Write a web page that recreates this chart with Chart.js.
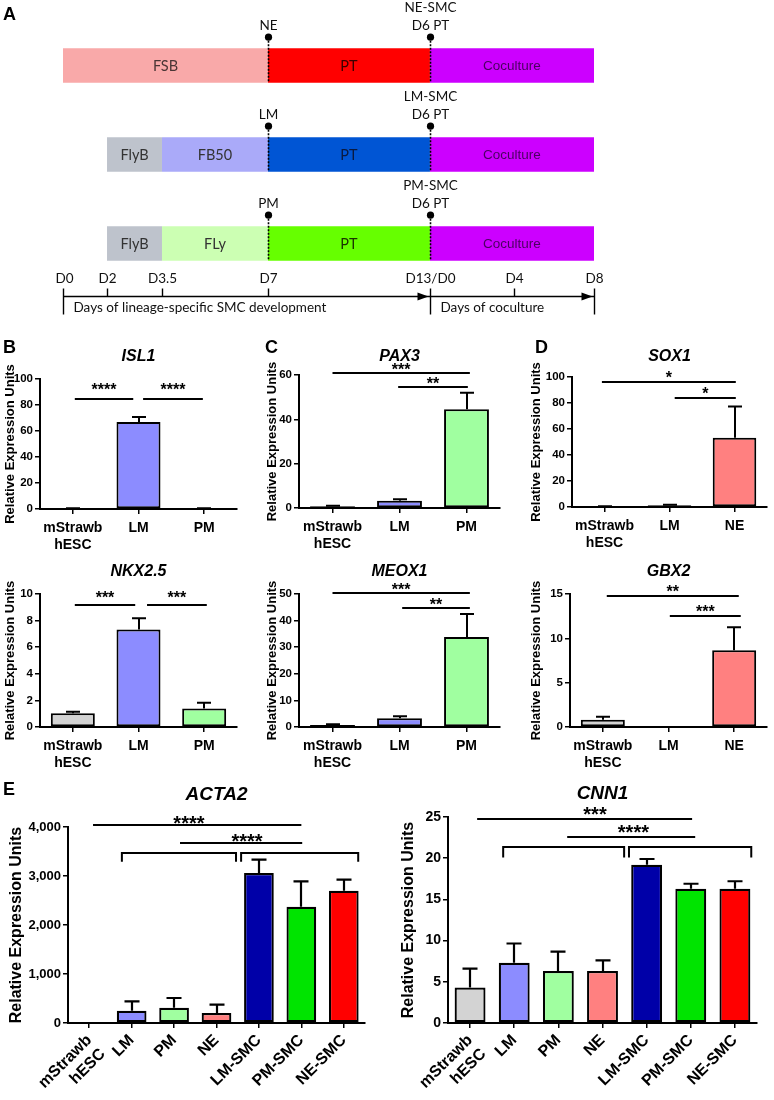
<!DOCTYPE html>
<html><head><meta charset="utf-8">
<script src="https://cdn.jsdelivr.net/npm/chart.js@4.4.1/dist/chart.umd.min.js"></script>
<style>
html,body{margin:0;padding:0;background:#fff;}
#fig{position:relative;width:774px;height:1100px;overflow:hidden;background:#fff;}
canvas{position:absolute;}
.lt{position:absolute;font:bold 18px 'Liberation Sans',Arial,sans-serif;line-height:18px;color:#000;}
</style></head><body>
<div id="fig">
<canvas id="cA"></canvas>
<canvas id="cB1"></canvas><canvas id="cB2"></canvas>
<canvas id="cC1"></canvas><canvas id="cC2"></canvas>
<canvas id="cD1"></canvas><canvas id="cD2"></canvas>
<canvas id="cE1"></canvas><canvas id="cE2"></canvas>
<div class="lt" style="left:3px;top:5px">A</div>
<div class="lt" style="left:3px;top:338px">B</div>
<div class="lt" style="left:265px;top:338px">C</div>
<div class="lt" style="left:535px;top:338px">D</div>
<div class="lt" style="left:3px;top:780px">E</div>
</div>
<script>
// ================= DATA =================
// Panel A (schematic, days; coculture days counted from D13)
const schemeRows = ['NE', 'LM', 'PM'];
const stage1Span = [[0, 7], [2, 3.5], [2, 3.5]];
const stage1Names = ['FSB', 'FlyB', 'FlyB'];
const stage2Span = [null, [3.5, 7], [3.5, 7]];
const stage2Names = [null, 'FB50', 'FLy'];
const ptSpan = [[7, 13], [7, 13], [7, 13]];
const ptNames = ['PT', 'PT', 'PT'];
const cocultureSpan = [[13, 21], [13, 21], [13, 21]];
const cocultureNames = ['Coculture', 'Coculture', 'Coculture'];
const timeTickDays = [0, 2, 3.5, 7, 13, 17, 21];
const timeTickLabels = ['D0', 'D2', 'D3.5', 'D7', 'D13/D0', 'D4', 'D8'];
const milestoneRow = [0, 0, 1, 1, 2, 2];
const milestoneDay = [7, 13, 7, 13, 7, 13];
const milestoneText = [['NE'], ['NE-SMC', 'D6 PT'], ['LM'], ['LM-SMC', 'D6 PT'], ['PM'], ['PM-SMC', 'D6 PT']];
const timeAxisNames = ['Days of lineage-specific SMC development', 'Days of coculture'];

// Panels B-E categories
const catsPM = [['mStrawb', 'hESC'], 'LM', 'PM'];
const catsNE = [['mStrawb', 'hESC'], 'LM', 'NE'];
const catsE = [['mStrawb', 'hESC'], 'LM', 'PM', 'NE', 'LM-SMC', 'PM-SMC', 'NE-SMC'];

// values (mean) and SEM
const isl1 = [0.5, 67, 0.5];        const isl1Sem = [0.1, 3.8, 0.1];
const nkx25 = [1.03, 7.33, 1.4];    const nkx25Sem = [0.12, 0.85, 0.43];
const pax3 = [0.75, 3.3, 44.5];     const pax3Sem = [0.3, 0.6, 7.5];
const meox1 = [0.75, 3.25, 33.8];   const meox1Sem = [0.25, 0.75, 8.7];
const sox1 = [0.4, 1.3, 53.2];      const sox1Sem = [0.1, 0.5, 24.2];
const gbx2 = [0.83, 0.05, 8.67];    const gbx2Sem = [0.34, 0, 2.58];
const acta2 = [2, 250, 310, 205, 3060, 2370, 2700];
const acta2Sem = [0, 190, 200, 170, 275, 520, 225];
const cnn1 = [4.3, 7.3, 6.3, 6.3, 19.2, 16.3, 16.3];
const cnn1Sem = [2.3, 2.35, 2.35, 1.3, 0.7, 0.6, 0.9];

// significance lines: [fromCat, toCat, value, label, (labelCat)]
const isl1Sig = [[0.03, 0.92, 85, '****'], [1.07, 1.98, 85, '****']];
const nkx25Sig = [[0.03, 0.95, 9.15, '***'], [1.13, 2.04, 9.15, '***']];
const pax3Sig = [[0.0, 2.05, 60.9, '***'], [0.98, 2.02, 54.6, '**']];
const meox1Sig = [[0.0, 2.05, 50.2, '***'], [1.04, 2.05, 44.6, '**']];
const sox1Sig = [[-0.04, 2.02, 96.5, '*'], [1.08, 2.02, 84, '*']];
const gbx2Sig = [[0.06, 2.07, 14.8, '**'], [1.02, 2.1, 12.5, '***']];
const acta2Sig = [[0.09, 5.0, 4040, '****', 2.35], [2.14, 5.02, 3670, '****', 3.72]];
const acta2Brackets = [[0.77, 3.46, 3470, 3290], [3.58, 6.34, 3470, 3290]];
const cnn1Sig = [[0.16, 5.03, 24.8, '***', 2.83], [2.2, 5.1, 22.6, '****', 3.7]];
const cnn1Brackets = [[0.75, 3.49, 21.4, 20.1], [3.6, 6.37, 21.4, 20.1]];

// ================= STYLE =================
const C = {
  gray: '#D3D3D3', lm: '#8C8CFF', pm: '#A0FFA0', ne: '#FF8080',
  lmSmc: '#0000A8', pmSmc: '#00E400', neSmc: '#FF0000'
};
const FONT = "'Liberation Sans', Arial, sans-serif";
const AFONT = "Lato, 'Open Sans', sans-serif";

// ---------- Panel A: piecewise schematic time scale ----------
const stageFrac = [0, 0.0829, 0.1864, 0.386, 0.691, 0.849, 1];
class StageScale extends Chart.LinearScale {
  getPixelForValue(value) {
    if (value === null || value === undefined || isNaN(value)) return NaN;
    const b = timeTickDays, f = stageFrac;
    let dec;
    if (value <= b[0]) dec = f[0];
    else if (value >= b[b.length - 1]) dec = f[f.length - 1];
    else {
      for (let i = 1; i < b.length; i++) {
        if (value <= b[i]) { dec = f[i - 1] + (value - b[i - 1]) / (b[i] - b[i - 1]) * (f[i] - f[i - 1]); break; }
      }
    }
    return this.getPixelForDecimal(dec);
  }
}
StageScale.id = 'stage';
StageScale.defaults = {};
Chart.register(StageScale);

const schemePlugin = {
  id: 'scheme',
  afterDatasetsDraw(chart) {
    const ctx = chart.ctx, xs = chart.scales.x, ca = chart.chartArea;
    ctx.save();
    chart.data.datasets.forEach((ds, di) => {
      chart.getDatasetMeta(di).data.forEach((el, i) => {
        const n = ds.names[i];
        if (!n || !ds.data[i]) return;
        ctx.font = ds.nameFont;
        ctx.fillStyle = ds.nameColor[i];
        ctx.textAlign = 'center'; ctx.textBaseline = 'middle';
        ctx.fillText(n, (el.x + el.base) / 2, el.y + 1);
      });
    });
    const ref = chart.getDatasetMeta(2).data;
    milestoneDay.forEach((d, k) => {
      const el = ref[milestoneRow[k]];
      const x = Math.round(xs.getPixelForValue(d)) + 0.5;
      const top = el.y - el.height / 2, bot = el.y + el.height / 2;
      const dotY = top - 11;
      ctx.strokeStyle = '#000'; ctx.lineWidth = 1.6; ctx.setLineDash([2, 1.5]);
      ctx.beginPath(); ctx.moveTo(x, dotY); ctx.lineTo(x, bot); ctx.stroke();
      ctx.setLineDash([]);
      ctx.fillStyle = '#000';
      ctx.beginPath(); ctx.arc(x, dotY, 3.6, 0, Math.PI * 2); ctx.fill();
      ctx.font = '13.5px ' + AFONT; ctx.textAlign = 'center'; ctx.textBaseline = 'middle'; ctx.fillStyle = '#111';
      const lines = milestoneText[k];
      lines.forEach((t, j) => ctx.fillText(t, x, dotY - 12 - (lines.length - 1 - j) * 18));
    });
    const axY = Math.round(ca.bottom + 8) + 0.5;
    const px = timeTickDays.map(d => Math.round(xs.getPixelForValue(d)) + 0.5);
    const major = [true, false, false, false, true, false, true];
    ctx.strokeStyle = '#000'; ctx.lineWidth = 1.4;
    ctx.beginPath(); ctx.moveTo(px[0], axY); ctx.lineTo(px[px.length - 1], axY); ctx.stroke();
    px.forEach((x, i) => {
      ctx.beginPath();
      ctx.moveTo(x, axY - 8); ctx.lineTo(x, major[i] ? axY + 18 : axY); ctx.stroke();
      ctx.font = '13.5px ' + AFONT; ctx.textAlign = 'center'; ctx.textBaseline = 'middle'; ctx.fillStyle = '#111';
      ctx.fillText(timeTickLabels[i], x + (i === 0 ? 1 : 0), axY - 18);
    });
    [4, 6].forEach(i => {
      const t = px[i] - 2;
      ctx.beginPath(); ctx.moveTo(t, axY); ctx.lineTo(t - 11, axY - 4); ctx.lineTo(t - 11, axY + 4); ctx.closePath();
      ctx.fillStyle = '#000'; ctx.fill();
    });
    ctx.font = '13.5px ' + AFONT; ctx.textAlign = 'left'; ctx.textBaseline = 'middle'; ctx.fillStyle = '#111';
    ctx.fillText(timeAxisNames[0], px[0] + 10, axY + 11);
    ctx.fillText(timeAxisNames[1], px[4] + 10, axY + 11);
    ctx.restore();
  }
};

(function () {
  const c = document.getElementById('cA');
  c.width = 774; c.height = 320; c.style.left = '0px'; c.style.top = '0px';
  const barOpts = { grouped: false, barPercentage: 0.39, categoryPercentage: 1, borderWidth: 0 };
  new Chart(c, {
    type: 'bar',
    data: {
      labels: schemeRows,
      datasets: [
        Object.assign({ data: stage1Span, names: stage1Names, backgroundColor: ['#F9A9A9', '#BEC3CC', '#BEC3CC'],
          nameColor: ['#4a3535', '#333', '#333'], nameFont: '14.5px ' + AFONT }, barOpts),
        Object.assign({ data: stage2Span, names: stage2Names, backgroundColor: ['#fff', '#AAAAF9', '#CCFFB3'],
          nameColor: ['#333', '#333', '#333'], nameFont: '14.5px ' + AFONT }, barOpts),
        Object.assign({ data: ptSpan, names: ptNames, backgroundColor: ['#FF0000', '#0055D4', '#66FF00'],
          nameColor: ['#3a0000', '#0a1a40', '#1a3300'], nameFont: '14.5px ' + AFONT }, barOpts),
        Object.assign({ data: cocultureSpan, names: cocultureNames, backgroundColor: ['#CC00FF', '#CC00FF', '#CC00FF'],
          nameColor: ['#4a0060', '#4a0060', '#4a0060'], nameFont: '13.5px ' + FONT }, barOpts)
      ]
    },
    options: {
      indexAxis: 'y', responsive: false, animation: false, devicePixelRatio: 1, events: [],
      layout: { autoPadding: false, padding: { left: 63, right: 180, top: 21, bottom: 32 } },
      plugins: { legend: { display: false }, tooltip: { enabled: false } },
      scales: {
        x: { type: 'stage', min: 0, max: 21, display: false },
        y: { type: 'category', display: false, offset: true }
      }
    },
    plugins: [schemePlugin]
  });
})();

// ---------- Panels B-E: bar charts ----------
function mkErr(s) {
  return {
    id: 'errbars',
    afterDatasetsDraw(chart) {
      const ctx = chart.ctx, ys = chart.scales.y;
      const els = chart.getDatasetMeta(0).data;
      ctx.save(); ctx.strokeStyle = '#000'; ctx.lineWidth = s.ew;
      els.forEach((el, i) => {
        const sem = s.sem[i];
        if (!sem) return;
        const yTop = ys.getPixelForValue(s.values[i] + sem);
        const x = Math.round(el.x);
        ctx.beginPath();
        ctx.moveTo(x, el.y); ctx.lineTo(x, yTop);
        ctx.moveTo(x - s.cap / 2, yTop); ctx.lineTo(x + s.cap / 2, yTop);
        ctx.stroke();
      });
      ctx.restore();
    }
  };
}
function mkSig(s) {
  return {
    id: 'sig',
    afterDraw(chart) {
      const ctx = chart.ctx, xs = chart.scales.x, ys = chart.scales.y;
      ctx.save(); ctx.strokeStyle = '#000'; ctx.fillStyle = '#000'; ctx.lineWidth = 2;
      (s.sig || []).forEach(l => {
        const x1 = xs.getPixelForValue(l[0]), x2 = xs.getPixelForValue(l[1]);
        const y = Math.round(ys.getPixelForValue(l[2]));
        ctx.beginPath(); ctx.moveTo(x1, y); ctx.lineTo(x2, y); ctx.stroke();
        const tx = l.length > 4 ? xs.getPixelForValue(l[4]) : (x1 + x2) / 2;
        ctx.font = 'bold ' + s.starFont + 'px ' + FONT;
        ctx.textAlign = 'center'; ctx.textBaseline = 'alphabetic';
        ctx.fillText(l[3], tx, y - s.starGap + s.starFont * 0.58);
      });
      (s.brackets || []).forEach(b => {
        const x1 = xs.getPixelForValue(b[0]), x2 = xs.getPixelForValue(b[1]);
        const y = Math.round(ys.getPixelForValue(b[2])), y2 = ys.getPixelForValue(b[3]);
        ctx.beginPath(); ctx.moveTo(x1, y2); ctx.lineTo(x1, y); ctx.lineTo(x2, y); ctx.lineTo(x2, y2); ctx.stroke();
      });
      ctx.restore();
    }
  };
}
function mkTitle(s) {
  return {
    id: 'geneTitle',
    afterDraw(chart) {
      const ctx = chart.ctx, ca = chart.chartArea;
      ctx.save();
      ctx.font = 'italic bold ' + s.titleFont + 'px ' + FONT;
      ctx.fillStyle = '#000'; ctx.textAlign = 'center'; ctx.textBaseline = 'middle';
      ctx.fillText(s.title, (ca.left + ca.right) / 2 + (s.titleDx || 0), s.titleY - s.box[1]);
      ctx.restore();
    }
  };
}

function geneChart(id, s) {
  const c = document.getElementById(id);
  c.width = s.box[2]; c.height = s.box[3];
  c.style.left = s.box[0] + 'px'; c.style.top = s.box[1] + 'px';
  const yW = s.area[0] - s.box[0];
  const padTop = s.area[1] - s.box[1];
  const padRight = s.box[0] + s.box[2] - s.area[2];
  const xH = s.box[1] + s.box[3] - s.area[3];
  new Chart(c, {
    type: 'bar',
    data: {
      labels: s.labels,
      datasets: [{
        data: s.values, backgroundColor: s.colors, borderColor: '#000', borderWidth: s.bw,
        borderSkipped: false, barPercentage: s.barPct, categoryPercentage: 1
      }]
    },
    options: {
      responsive: false, animation: false, devicePixelRatio: 1, events: [],
      layout: { autoPadding: false, padding: { left: 0, top: padTop, right: padRight, bottom: 0 } },
      plugins: { legend: { display: false }, tooltip: { enabled: false } },
      scales: {
        x: {
          offset: true,
          grid: { display: true, drawOnChartArea: false, offset: false, drawTicks: true, tickLength: 5, color: '#000', lineWidth: 1.5 },
          border: { display: true, color: '#000', width: 2 },
          ticks: { color: '#000', font: { family: FONT, size: s.xFont, weight: 'bold' }, padding: s.xPad,
            autoSkip: false, maxRotation: s.rot, minRotation: s.rot },
          afterFit: sc => { sc.height = xH; }
        },
        y: {
          min: 0, max: s.max,
          grid: { display: true, drawOnChartArea: false, drawTicks: true, tickLength: 5, color: '#000', lineWidth: 1.5 },
          border: { display: true, color: '#000', width: 2 },
          ticks: { stepSize: s.step, color: '#000', font: { family: FONT, size: s.yFont, weight: 'bold' }, padding: 2 },
          title: { display: true, text: 'Relative Expression Units', color: '#000',
            font: { family: FONT, size: s.tFont, weight: 'bold' }, padding: { top: 3, bottom: 0 } },
          afterFit: sc => { sc.width = yW; }
        }
      }
    },
    plugins: [mkErr(s), mkSig(s), mkTitle(s)]
  });
}

const small = { bw: 2, barPct: 0.67, ew: 2, cap: 14, xFont: 14, xPad: 6, rot: 0, yFont: 11.5, tFont: 13, titleFont: 16, starFont: 16, starGap: 8 };
const big = { bw: 2.2, barPct: 0.7, ew: 2.2, cap: 15, xFont: 16, xPad: 3, rot: 45, yFont: 13, tFont: 16, titleFont: 19, starFont: 20, starGap: 8 };

geneChart('cB1', Object.assign({}, small, { box: [0, 335, 248, 225], area: [40, 379, 237, 509], labels: catsPM,
  values: isl1, sem: isl1Sem, colors: [C.gray, C.lm, C.pm], max: 100, step: 20, sig: isl1Sig, starGap: 13,
  title: 'ISL1', titleY: 357 }));
geneChart('cB2', Object.assign({}, small, { box: [0, 560, 248, 215], area: [40, 594, 237, 727], labels: catsPM,
  values: nkx25, sem: nkx25Sem, colors: [C.gray, C.lm, C.pm], max: 10, step: 2, sig: nkx25Sig, starGap: 11,
  title: 'NKX2.5', titleY: 572 }));
geneChart('cC1', Object.assign({}, small, { box: [262, 335, 248, 225], area: [299, 375, 500, 508], labels: catsPM,
  values: pax3, sem: pax3Sem, colors: [C.gray, C.lm, C.pm], max: 60, step: 20, sig: pax3Sig, starGap: 7,
  title: 'PAX3', titleY: 357 }));
geneChart('cC2', Object.assign({}, small, { box: [262, 560, 248, 215], area: [299, 594, 500, 727], labels: catsPM,
  values: meox1, sem: meox1Sem, colors: [C.gray, C.lm, C.pm], max: 50, step: 10, sig: meox1Sig, starGap: 7,
  title: 'MEOX1', titleY: 572 }));
geneChart('cD1', Object.assign({}, small, { box: [526, 335, 248, 225], area: [572, 377, 767, 507], labels: catsNE,
  values: sox1, sem: sox1Sem, colors: [C.gray, C.lm, C.ne], max: 100, step: 20, sig: sox1Sig, starGap: 8,
  title: 'SOX1', titleY: 357 }));
geneChart('cD2', Object.assign({}, small, { box: [526, 560, 248, 215], area: [570, 594, 767, 727], labels: catsNE,
  values: gbx2, sem: gbx2Sem, colors: [C.gray, C.lm, C.ne], max: 15, step: 5, sig: gbx2Sig, starGap: 8,
  title: 'GBX2', titleY: 572 }));
const eColors = [C.gray, C.lm, C.pm, C.ne, C.lmSmc, C.pmSmc, C.neSmc];
geneChart('cE1', Object.assign({}, big, { box: [4, 770, 381, 330], area: [68, 827, 365, 1023], labels: catsE,
  values: acta2, sem: acta2Sem, colors: eColors, max: 4000, step: 1000, sig: acta2Sig, brackets: acta2Brackets,
  starGap: 7, title: 'ACTA2', titleY: 795 }));
geneChart('cE2', Object.assign({}, big, { box: [396, 770, 378, 330], area: [448, 817, 757, 1023], labels: catsE,
  values: cnn1, sem: cnn1Sem, colors: eColors, max: 25, step: 5, sig: cnn1Sig, brackets: cnn1Brackets,
  starGap: 10, yFont: 14, title: 'CNN1', titleY: 794 }));
</script>
</body></html>
